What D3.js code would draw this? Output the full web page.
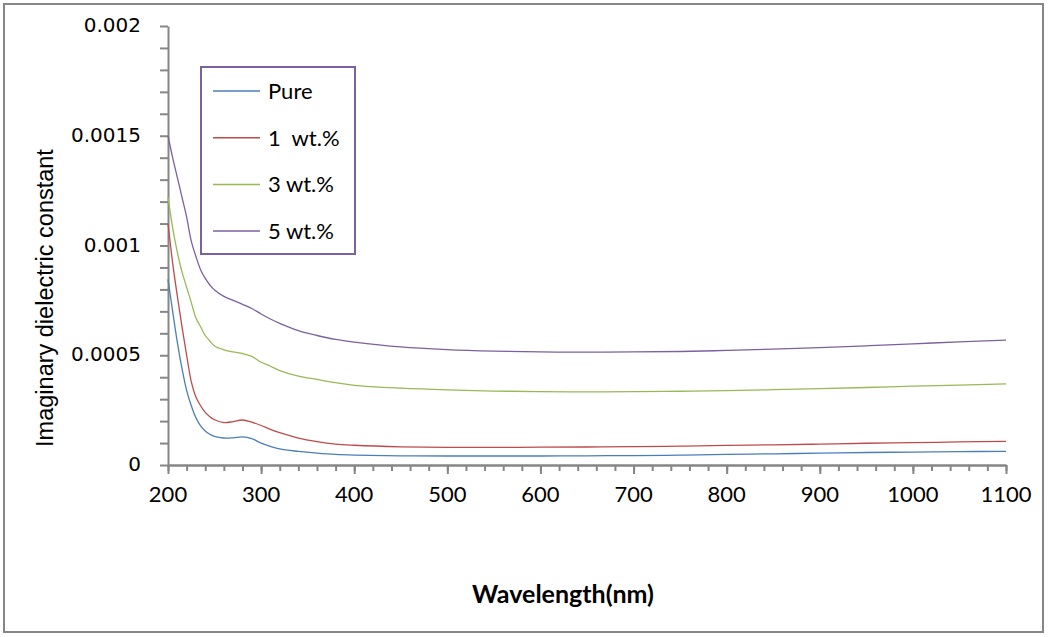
<!DOCTYPE html>
<html><head><meta charset="utf-8">
<script src="https://cdn.jsdelivr.net/npm/d3@7"></script>
<style>body{margin:0;background:#fff}svg{display:block}</style>
</head><body><svg id="c" width="1048" height="637"></svg>
<script>
const wavelength = [200,205,210,215,220,225,230,235,240,245,250,260,270,280,290,300,310,320,340,360,380,400,450,500,550,600,650,700,750,800,850,900,950,1000,1050,1100];
const pure = [0.000846,0.0007,0.00056,0.00044,0.00034,0.00027,0.000215,0.000178,0.000155,0.00014,0.00013,
  0.000123,0.000124,0.000128,0.00012,0.0001,0.000085,0.000073,
  0.000062,0.000054,0.000048,0.000045,
  0.000042,0.000041,0.000041,0.000041,0.000042,0.000043,0.000045,0.000048,0.000051,0.000054,0.000057,0.000059,0.000061,0.000062];
const wt1 = [0.0011,0.00092,0.00077,0.00063,0.0005,0.00038,0.00031,0.00027,0.00024,0.00022,0.000206,
  0.000193,0.000198,0.000205,0.000195,0.00018,0.000162,0.000147,
  0.000122,0.000106,0.000095,0.00009,
  0.000083,0.00008,0.00008,0.000081,0.000082,0.000084,0.000086,0.000089,0.000092,0.000095,0.000099,0.000102,0.000105,0.000108];
const wt3 = [0.00122,0.00108,0.00097,0.00088,0.00081,0.00074,0.00067,0.00063,0.00059,0.000565,0.000542,
  0.000525,0.000515,0.000508,0.000495,0.000468,0.00045,0.00043,
  0.000405,0.00039,0.000375,0.000363,
  0.00035,0.000342,0.000337,0.000334,0.000333,0.000334,0.000336,0.000339,0.000343,0.000348,0.000353,0.000359,0.000364,0.00037];
const wt5 = [0.0015,0.0014,0.00131,0.00122,0.00113,0.00102,0.00095,0.00089,0.00085,0.00082,0.000797,
  0.000768,0.00075,0.000732,0.000713,0.000688,0.000665,0.000645,
  0.000612,0.00059,0.000572,0.00056,
  0.000538,0.000526,0.000519,0.000515,0.000514,0.000515,0.000517,0.000522,0.000528,0.000535,0.000543,0.000552,0.000561,0.000569];
const seriesNames = ["Pure","1  wt.%","3 wt.%","5 wt.%"];
const seriesColors = ["#4a7ebb","#be4b48","#98b954","#7d60a0"];
const xTicks = [200,300,400,500,600,700,800,900,1000,1100];
const yTicks = [0,0.0005,0.001,0.0015,0.002];
const yTickLabels = ["0","0.0005","0.001","0.0015","0.002"];

const series = [pure, wt1, wt3, wt5];
const svg = d3.select("#c");
const x = d3.scaleLinear().domain([200,1100]).range([168,1006]);
const y = d3.scaleLinear().domain([0,0.002]).range([465,26]);
const axisColor = "#868686";

svg.append("rect").attr("x",4).attr("y",4).attr("width",1039).attr("height",628)
  .attr("fill","#fff").attr("stroke",axisColor).attr("stroke-width",2);

// X axis
const gx = svg.append("g").attr("transform","translate(0,465)");
gx.call(d3.axisBottom(x).tickValues(d3.range(200,1101,20)).tickFormat("").tickSize(6).tickSizeOuter(0));
gx.append("g").call(d3.axisBottom(x).tickValues(xTicks).tickFormat("").tickSize(9).tickSizeOuter(0));
gx.selectAll("path").attr("stroke",axisColor).attr("stroke-width",2);
gx.selectAll("line").attr("stroke",axisColor).attr("stroke-width",2);
svg.append("g").selectAll("text").data(xTicks).join("text")
  .attr("x",d=>x(d)).attr("y",502).attr("text-anchor","middle")
  .attr("font-family","Lato, sans-serif").attr("font-size",22).attr("fill","#000")
  .text(d=>d);

// Y axis
const gy = svg.append("g").attr("transform","translate(168,0)");
gy.call(d3.axisLeft(y).tickValues(d3.range(0,21).map(i=>i*0.0001)).tickFormat("").tickSize(8).tickSizeOuter(0));
gy.selectAll("path").attr("stroke",axisColor).attr("stroke-width",2);
gy.selectAll("line").attr("stroke",axisColor).attr("stroke-width",2);
svg.append("g").selectAll("text").data(yTicks).join("text")
  .attr("x",141).attr("y",d=>y(d)+6).attr("text-anchor","end")
  .attr("font-family","'DejaVu Sans', sans-serif").attr("font-size",20).attr("fill","#000")
  .text((d,i)=>yTickLabels[i]);

// lines
const line = d3.line().x((d,i)=>x(wavelength[i])).y(d=>y(d)).curve(d3.curveCatmullRom.alpha(0.5));
series.forEach((s,i)=>{
  svg.append("path").datum(s).attr("d",line).attr("fill","none")
    .attr("stroke",seriesColors[i]).attr("stroke-width",1.3);
});

// legend
svg.append("rect").attr("x",201).attr("y",67).attr("width",154).attr("height",187)
  .attr("fill","#fff").attr("stroke","#7d60a0").attr("stroke-width",2);
seriesNames.forEach((n,i)=>{
  const yy = 91 + i*46.7;
  svg.append("line").attr("x1",213).attr("x2",260).attr("y1",yy).attr("y2",yy)
    .attr("stroke",seriesColors[i]).attr("stroke-width",1.5);
  svg.append("text").attr("x",268).attr("y",yy+8).attr("font-family","Lato, sans-serif")
    .style("white-space","pre")
    .attr("font-size",22).attr("fill","#000").text(n);
});

// axis titles
svg.append("text").attr("x",563).attr("y",603).attr("text-anchor","middle")
  .attr("font-family","Lato, sans-serif").attr("font-size",25).attr("font-weight","bold")
  .attr("fill","#000").text("Wavelength(nm)");
svg.append("text").attr("transform","translate(53,298) rotate(-90)").attr("text-anchor","middle")
  .attr("font-family","'Liberation Sans', Arial, sans-serif").attr("font-size",23.5).attr("fill","#000")
  .text("Imaginary dielectric constant");
</script></body></html>
